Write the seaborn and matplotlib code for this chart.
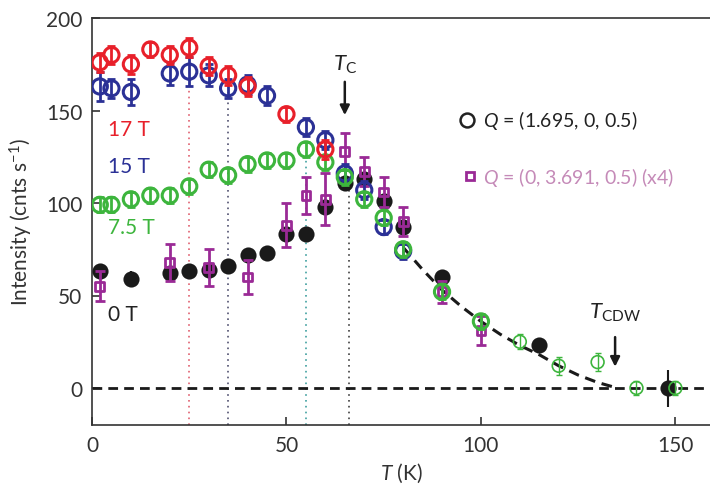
import numpy as np
import pandas as pd
import matplotlib
matplotlib.use('Agg')
import matplotlib.pyplot as plt
import seaborn as sns

# 17 T
T17 = [2, 5, 10, 15, 20, 25, 30, 35, 40, 50, 60]
I17 = [176, 180, 175, 183, 180, 184, 174, 169, 163, 148, 129]
e17 = [5, 5, 5, 4, 5, 5, 5, 5, 5, 4, 5]

# 15 T
T15 = [2, 5, 10, 20, 25, 30, 35, 40, 45, 55, 60, 65, 70, 75, 80]
I15 = [163, 162, 160, 170, 171, 169, 162, 164, 158, 141, 134, 116, 107, 87, 74]
e15 = [8, 5, 7, 6, 8, 6, 5, 5, 5, 5, 5, 5, 5, 4, 4]

# 7.5 T
T75 = [2, 5, 10, 15, 20, 25, 30, 35, 40, 45, 50, 55, 60, 65, 70, 75, 80, 90, 100]
I75 = [99, 99, 102, 104, 104, 109, 118, 115, 121, 123, 123, 129, 122, 114, 102, 92, 75, 52, 36]
e75 = [4, 4, 4, 4, 4, 4, 4, 4, 4, 4, 4, 4, 4, 4, 4, 4, 4, 4, 4]
# 7.5 T, high temperature points (thin markers)
T75_hi = [110, 120, 130, 140, 150]
I75_hi = [25, 12, 14, 0, 0]
e75_hi = [4, 5, 5, 4, 4]

# 0 T
T0 = [2, 10, 20, 25, 30, 35, 40, 45, 50, 55, 60, 65, 70, 75, 80, 90, 115, 148]
I0 = [63, 59, 62, 63, 64, 66, 72, 73, 83, 83, 98, 111, 113, 101, 87, 60, 23, 0]
e0 = [4, 4, 4, 4, 4, 4, 3, 3, 4, 4, 4, 4, 4, 4, 5, 4, 3, 10]

# Q = (0, 3.691, 0.5) x4
Tm = [2, 20, 30, 40, 50, 55, 60, 65, 70, 75, 80, 90, 100]
Im = [55, 68, 65, 60, 88, 104, 102, 128, 117, 106, 90, 52, 31]
em = [8, 10, 10, 9, 12, 10, 14, 10, 8, 8, 8, 6, 8]

# fit curve
fit_T = [80, 85, 90, 95, 100, 105, 110, 115, 120, 125, 130, 135]
fit_I = [76, 64, 53, 44, 36, 29, 23, 18, 12, 7, 3, 0]

# transition temperatures marked with dotted lines
vl_T = [25, 35, 55, 66]
vl_top = [166, 160, 126, 110]
vl_colors = ['#e06070', '#505070', '#40a0a0', '#404040']

red = '#e8202a'
blue = '#2b3196'
green = '#3db53d'
magenta = '#9a2a96'

sns.set_theme(style='ticks')
plt.rcParams['font.family'] = ['Lato', 'DejaVu Sans']
plt.rcParams['mathtext.fontset'] = 'custom'
plt.rcParams['mathtext.rm'] = 'Lato'
plt.rcParams['mathtext.it'] = 'Lato:italic'

fig = plt.figure(figsize=(7.1, 4.89), dpi=100)
ax = fig.add_axes([92 / 710, 1 - 426 / 489, 1 - 92 / 710, (426 - 19) / 489])

# dotted lines at transitions
for t, top, c in zip(vl_T, vl_top, vl_colors):
    ax.vlines(t, -20, top, colors=c, linestyles=(0, (1, 2.5)), lw=1.2, zorder=1)

# zero line and fit
ax.axhline(0, color='k', lw=2, ls=(0, (3.5, 2.2)), zorder=2)
sns.lineplot(x=fit_T, y=fit_I, color='k', lw=2.2, ls=(0, (3.5, 2.2)), ax=ax, zorder=2)

# black 0 T
ax.errorbar(T0, I0, yerr=e0, fmt='none', ecolor='k', elinewidth=1.5, capsize=0, zorder=3)
sns.scatterplot(x=T0, y=I0, color='k', s=135, linewidth=0, ax=ax, zorder=3)

# magenta squares
ax.errorbar(Tm, Im, yerr=em, fmt='none', ecolor=magenta, elinewidth=2, capsize=3.5, capthick=2, zorder=4)
sns.scatterplot(x=Tm, y=Im, marker='s', color=magenta, edgecolor=magenta, facecolor='none',
                s=40, linewidth=2, ax=ax, zorder=4)

series = [(T15, I15, e15, blue, 5), (T75, I75, e75, green, 6), (T17, I17, e17, red, 7)]
for tt, ii, ee, c, z in series:
    ax.errorbar(tt, ii, yerr=ee, fmt='none', ecolor=c, elinewidth=2, capsize=3, capthick=2, zorder=z)
    sns.scatterplot(x=tt, y=ii, marker='o', color=c, edgecolor=c, facecolor='none',
                    s=120, linewidth=2.2, ax=ax, zorder=z)

ax.errorbar(T75_hi, I75_hi, yerr=e75_hi, fmt='none', ecolor=green, elinewidth=1, capsize=2, zorder=6)
sns.scatterplot(x=T75_hi, y=I75_hi, marker='o', color=green, edgecolor=green, facecolor='none',
                s=85, linewidth=1.2, ax=ax, zorder=6)

# field labels
ax.text(4, 140, '17 T', color=red, fontsize=15, va='center')
ax.text(4, 120, '15 T', color=blue, fontsize=15, va='center')
ax.text(4, 87, '7.5 T', color=green, fontsize=15, va='center')
ax.text(4, 40, '0 T', color='#222222', fontsize=15, va='center')

# legend-like annotations
ax.plot([96.5], [145], marker='o', ms=10, mfc='none', mec='#222222', mew=1.8, clip_on=False)
ax.text(100.5, 145, r'$Q$ = (1.695, 0, 0.5)', color='#222222', fontsize=14, va='center')
ax.plot([97.3], [114.5], marker='s', ms=6, mfc='none', mec=magenta, mew=2, clip_on=False)
ax.text(100.5, 114.5, r'$Q$ = (0, 3.691, 0.5) (x4)', color='#c58ab8', fontsize=14, va='center')

# Tc and Tcdw arrows
ax.text(65, 175, r'$T_{\mathrm{C}}$', fontsize=16, ha='center', va='center', color='#222222')
ax.annotate('', xy=(65, 146), xytext=(65, 167),
            arrowprops=dict(arrowstyle='-|>', color='k', lw=1.8, mutation_scale=14))
ax.text(134.5, 41, r'$T_{\mathrm{CDW}}$', fontsize=16, ha='center', va='center', color='#222222')
ax.annotate('', xy=(134.5, 10), xytext=(134.5, 29),
            arrowprops=dict(arrowstyle='-|>', color='k', lw=1.8, mutation_scale=14))

ax.set_xlim(0, 158.9)
ax.set_ylim(-20, 200)
ax.set_xticks([0, 50, 100, 150])
ax.set_yticks([0, 50, 100, 150, 200])
ax.tick_params(direction='in', length=6, width=1.2, labelsize=15, colors='#333333', pad=7)
for s in ['left', 'bottom', 'top']:
    ax.spines[s].set_color('#333333')
    ax.spines[s].set_linewidth(1.2)
ax.spines['right'].set_visible(False)

ax.set_xlabel(r'$T$ (K)', fontsize=15, color='#333333')
ax.set_ylabel(r'Intensity (cnts s$^{-1}$)', fontsize=15, color='#333333')
ax.xaxis.set_label_coords(0.5, -0.088)
ax.yaxis.set_label_coords(-0.092, 0.5)

fig.savefig('out.png', dpi=100)
